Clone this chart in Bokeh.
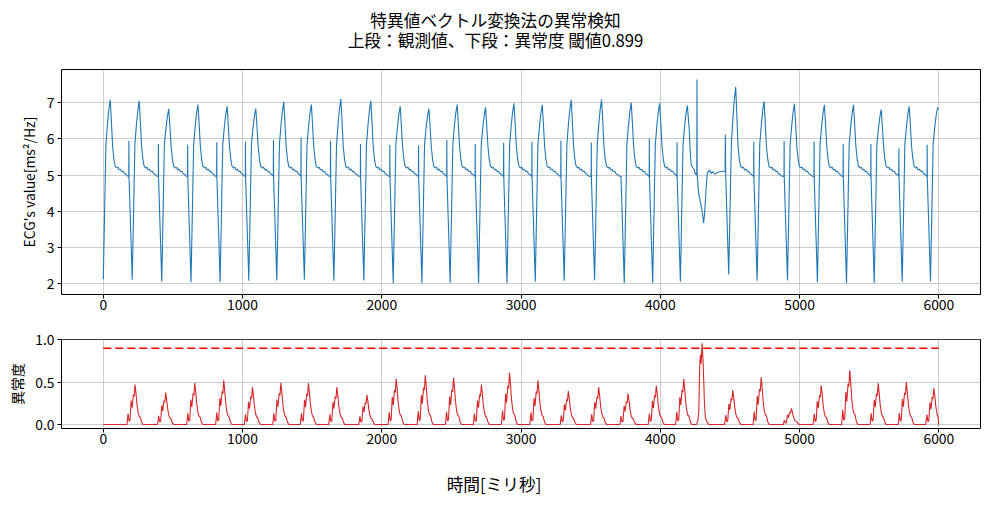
import numpy as np
from bokeh.plotting import figure
from bokeh.layouts import column
from bokeh.models import Range1d, Label, FixedTicker, PrintfTickFormatter
from bokeh.embed import file_html
from bokeh.resources import INLINE

FONT = "Noto Sans CJK JP"

# ---------------- data ----------------
n_samples = 6000
threshold = 0.899

title_1 = "特異値ベクトル変換法の異常検知"
title_2 = "上段：観測値、下段：異常度 閾値0.899"
xlabel = "時間[ミリ秒]"
ylabel_top = "ECG's value[ms²/Hz]"
ylabel_bottom = "異常度"

x_ticks = [0, 1000, 2000, 3000, 4000, 5000, 6000]
y_ticks_top = [2, 3, 4, 5, 6, 7]
y_ticks_bottom = [0.0, 0.5, 1.0]

# ECG: beat troughs (sample index, value), peak after each trough, spike before each trough
trough_x = [0, 208, 420, 630, 839, 1045, 1246, 1444, 1656, 1871, 2082, 2288, 2491, 2695,
            2899, 3102, 3310, 3528, 3741, 3945, 4144, 4491, 4695, 4913, 5128, 5337, 5536,
            5737, 5940]
trough_y = [2.13, 2.12, 2.06, 2.05, 2.05, 2.09, 2.10, 2.12, 2.09, 2.10, 2.02, 2.02, 2.03,
            2.03, 2.03, 2.06, 2.09, 2.10, 2.03, 2.03, 2.06, 2.26, 2.09, 2.10, 2.05, 2.03,
            2.03, 2.06, 2.07]
peak_y = [7.08, 7.05, 6.83, 6.95, 6.90, 6.84, 7.02, 6.95, 7.10, 7.05, 6.90, 6.84, 6.95,
          6.87, 6.98, 6.94, 7.08, 7.09, 7.00, 6.98, 6.92, 7.43, 7.04, 6.97, 6.94, 6.94,
          6.81, 6.90, 6.86]
# spike_y[i] is the sharp spike just before trough_x[i + 1]
spike_y = [5.95, 5.86, 5.84, 5.91, 5.92, 5.98, 6.04, 5.95, 5.86, 5.83, 5.82, 5.97, 5.86,
           5.89, 5.92, 5.96, 5.90, 4.98, 6.01, 5.91, 6.12, 5.92, 5.95, 5.93, 5.87, 5.86,
           5.74, 5.84]
ecg_end = 6.84

# typical beat shape (offset from trough in samples)
kink_dx, kink_y = 19, 5.85
rise_dx = [30, 40]
rise_frac = [0.45, 0.78]          # fraction of the way from kink to peak
peak_dx = 50
fall_dx = [57, 67, 77, 86]
fall_y = [None, 5.80, 5.42, 5.24]  # first point set from the peak
plat_dx = [98, 106, 114, 124, 134, 144, 154, 164, 174, 184, 194]
plat_y = [5.20, 5.22, 5.15, 5.16, 5.10, 5.11, 5.04, 5.02, 4.98, 4.97, 4.96]
spike_lead = 24

# the irregular beat after trough 4144
anomaly_beat = 20
anom_x = [4208, 4215, 4222, 4232, 4244, 4251, 4258, 4262, 4263, 4265, 4275, 4287, 4299,
          4311, 4318, 4328, 4337, 4352, 4366, 4375, 4390, 4407, 4431, 4455, 4465, 4467, 4469]
anom_y = [6.24, 5.60, 5.28, 5.22, 5.15, 5.02, 5.05, 5.00, 7.64, 5.00, 4.50, 4.27, 4.04,
          3.68, 3.95, 4.59, 5.05, 5.14, 5.05, 5.10, 5.03, 5.07, 5.10, 5.11, 5.11, 6.12, 5.05]

# anomaly score bumps
score_peak_x = [228, 448, 657, 865, 1071, 1275, 1473, 1677, 1893, 2103, 2312, 2515, 2715,
                2917, 3121, 3339, 3557, 3768, 3971, 4168, 4300, 4520, 4724, 4941, 5155,
                5360, 5564, 5766, 5964]
score_peak_h = [0.47, 0.376, 0.49, 0.52, 0.44, 0.49, 0.485, 0.44, 0.35, 0.54, 0.58, 0.55,
                0.47, 0.61, 0.52, 0.395, 0.44, 0.364, 0.46, 0.54, 0.957, 0.407, 0.558,
                0.19, 0.46, 0.64, 0.485, 0.50, 0.43]
bump_dx = [-58, -50, -43, -36, -28, -21, -12, -6, 0, 7, 14, 22, 30, 38, 48, 58]
bump_fr = [0, 0.27, 0.08, 0.10, 0.60, 0.42, 0.75, 0.70, 1, 0.78, 0.50, 0.30, 0.20, 0.18,
           0.05, 0]
big_bump_dx = [-40, -30, -24, -17, -12, -7, 0, 7, 12, 17, 24, 36, 48]
big_bump_fr = [0, 0.05, 0.16, 0.73, 0.86, 0.75, 1, 0.78, 0.52, 0.26, 0.08, 0.03, 0]

# ---------------- build the series ----------------
ex, ey = [], []
nb = len(trough_x)
for i in range(nb):
    T, tr, pk = trough_x[i], trough_y[i], peak_y[i]
    ex.append(T); ey.append(tr)
    ex.append(T + kink_dx); ey.append(kink_y)
    for d, f in zip(rise_dx, rise_frac):
        ex.append(T + d); ey.append(kink_y + (pk - kink_y) * f)
    ex.append(T + peak_dx); ey.append(pk)
    if i == nb - 1:
        ex.append(n_samples - 1); ey.append(ecg_end)
        break
    nT = trough_x[i + 1]
    if i == anomaly_beat:
        ex.extend(anom_x); ey.extend(anom_y)
        continue
    S = nT - spike_lead
    for d, v in zip(fall_dx, fall_y):
        if v is None:
            v = kink_y + (pk - kink_y) * 0.6
        ex.append(T + d); ey.append(v)
    for d, v in zip(plat_dx, plat_y):
        if T + d < S - 2:
            ex.append(T + d); ey.append(v)
    ex.extend([S - 1, S, S + 1]); ey.extend([4.96, spike_y[i], 4.92])

sx, sy = [0], [0.0]
for p, h in zip(score_peak_x, score_peak_h):
    if h > 0.9:
        dxs, frs = big_bump_dx, big_bump_fr
    else:
        dxs, frs = bump_dx, bump_fr
    for d, f in zip(dxs, frs):
        if p + d <= n_samples - 1:
            sx.append(p + d); sy.append(h * f)
sx.append(n_samples - 1); sy.append(0.0)

# ---------------- figures ----------------
W = 989
FW, FH1, FH2 = 919, 225, 89
LEFT = 61
RIGHT = W - LEFT - FW

def style(p, yticks):
    p.background_fill_color = "white"
    p.border_fill_color = "white"
    p.outline_line_color = "black"
    p.outline_line_width = 1
    p.outline_line_alpha = 1
    for ax in p.axis:
        ax.axis_line_color = None
        ax.major_tick_line_color = "black"
        ax.major_tick_out = 4
        ax.major_tick_in = 0
        ax.minor_tick_line_color = None
        ax.major_label_text_font = FONT
        ax.major_label_text_font_size = "13.9px"
        ax.major_label_text_color = "black"
        ax.major_label_standoff = 3
        ax.axis_label_text_font = FONT
        ax.axis_label_text_font_style = "normal"
        ax.axis_label_text_color = "black"
    p.xaxis.major_label_standoff = 0
    p.xaxis.ticker = FixedTicker(ticks=x_ticks)
    p.yaxis.ticker = FixedTicker(ticks=yticks)
    for g in p.grid:
        g.grid_line_color = "#b0b0b0"
        g.grid_line_width = 0.8
        g.grid_line_alpha = 0.8

def text_fig(h):
    # frame aligned with the plots below, data x equals page pixel x
    f = figure(frame_width=FW, frame_height=h,
               x_range=Range1d(LEFT, LEFT + FW), y_range=Range1d(0, h),
               output_backend="svg", toolbar_location=None, title=None,
               x_axis_location=None, y_axis_location=None,
               min_border_left=LEFT, min_border_right=RIGHT,
               min_border_top=0, min_border_bottom=0)
    f.grid.visible = False
    f.outline_line_color = None
    f.background_fill_color = "white"
    f.border_fill_color = "white"
    return f

TOP_H = 60
head = text_fig(TOP_H)
for txt, yy in ((title_1, TOP_H - 19), (title_2, TOP_H - 39)):
    head.add_layout(Label(x=495, y=yy, text=txt, text_font=FONT,
                          text_font_size="16.7px", text_color="black",
                          text_align="center", text_baseline="middle"))

p1 = figure(frame_width=FW, frame_height=FH1, title=None,
            x_range=Range1d(-300, 6299), y_range=Range1d(1.71, 7.915),
            output_backend="svg", toolbar_location=None,
            min_border_left=LEFT, min_border_right=RIGHT, min_border_top=69 - TOP_H,
            min_border_bottom=26)
style(p1, y_ticks_top)
p1.yaxis.axis_label = ylabel_top
p1.yaxis.axis_label_text_font_size = "13.9px"
p1.yaxis.axis_label_standoff = 5
p1.line(ex, ey, line_color="#1f77b4", line_width=1.1)

p2 = figure(frame_width=FW, frame_height=FH2, title=None,
            x_range=p1.x_range, y_range=Range1d(-0.048, 1.003),
            output_backend="svg", toolbar_location=None,
            min_border_left=LEFT, min_border_right=RIGHT, min_border_top=19,
            min_border_bottom=24)
style(p2, y_ticks_bottom)
p2.yaxis.formatter = PrintfTickFormatter(format="%.1f")
p2.yaxis.axis_label = ylabel_bottom
p2.yaxis.axis_label_text_font_size = "13.9px"
p2.yaxis.axis_label_standoff = 5
p2.line(sx, sy, line_color="#d62728", line_width=1.1)
p2.line([0, n_samples - 1], [threshold, threshold], line_color="red",
        line_width=1.5, line_dash="8 4")

BOT_H = 50
foot = text_fig(BOT_H)
foot.add_layout(Label(x=493.5, y=BOT_H - 31, text=xlabel, text_font=FONT,
                      text_font_size="16.7px", text_color="black",
                      text_align="center", text_baseline="middle"))

layout = column(head, p1, p2, foot)
open("out.html", "w").write(file_html(layout, INLINE))
